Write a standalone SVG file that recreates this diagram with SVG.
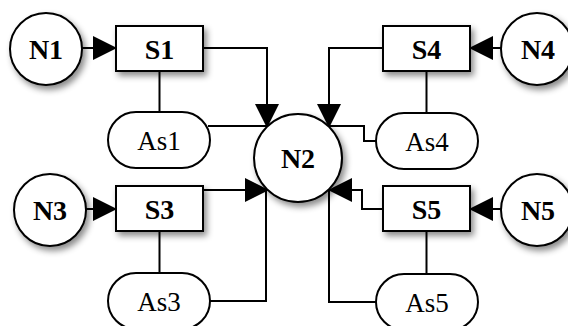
<svg xmlns="http://www.w3.org/2000/svg" width="568" height="326" viewBox="0 0 568 326">
  <defs>
    <filter id="shadow" x="-30%" y="-30%" width="170%" height="170%">
      <feDropShadow dx="3" dy="4" stdDeviation="3" flood-color="#000" flood-opacity="0.45"/>
    </filter>
    <marker id="arrow" markerUnits="userSpaceOnUse" markerWidth="24" markerHeight="24" refX="23" refY="12" orient="auto">
      <path d="M0,0 L24,12 L0,24 z" fill="#000"/>
    </marker>
    <style>
      .node { fill: #fff; stroke: #000; stroke-width: 2; filter: url(#shadow); }
      .pill { fill: #fff; stroke: #000; stroke-width: 2; }
      .edge { fill: none; stroke: #000; stroke-width: 2; }
      .lbl { font-family: "Liberation Serif", "Times New Roman", Times, "DejaVu Serif", serif; font-size: 27px; text-anchor: middle; fill: #000; }
      .bold { font-weight: bold; font-size: 28px; }
    </style>
  </defs>

  <g id="connectors">
    <!-- inputs into the S boxes -->
    <path class="edge" d="M82,48 L116,48" marker-end="url(#arrow)"/>
    <path class="edge" d="M86,209 L116,209" marker-end="url(#arrow)"/>
    <path class="edge" d="M501,48 L470,48" marker-end="url(#arrow)"/>
    <path class="edge" d="M501,209 L470,209" marker-end="url(#arrow)"/>
    <!-- S boxes into N2 -->
    <path class="edge" d="M203,48 L267,48 L267,127" marker-end="url(#arrow)"/>
    <path class="edge" d="M383,48 L329,48 L329,127" marker-end="url(#arrow)"/>
    <path class="edge" d="M203,190 L268,190" marker-end="url(#arrow)"/>
    <path class="edge" d="M383,209 L362,209 L362,190 L329,190" marker-end="url(#arrow)"/>
    <!-- As terminals to N2 -->
    <path class="edge" d="M208,126 L267,126"/>
    <path class="edge" d="M376,141 L364,141 L364,126 L329,126"/>
    <path class="edge" d="M210,301 L266,301 L266,190"/>
    <path class="edge" d="M376,302 L329,302 L329,190"/>
    <!-- S boxes to their As terminals -->
    <path class="edge" d="M159.5,71 L159.5,112"/>
    <path class="edge" d="M159.5,231 L159.5,273"/>
    <path class="edge" d="M426.5,71 L426.5,113"/>
    <path class="edge" d="M426.5,231 L426.5,274"/>
  </g>

  <g id="N1">
    <circle class="node" cx="46" cy="49" r="36"/>
    <text class="lbl bold" x="46" y="58.5">N1</text>
  </g>
  <g id="N3">
    <circle class="node" cx="50" cy="210" r="36"/>
    <text class="lbl bold" x="50" y="219.5">N3</text>
  </g>
  <g id="N4">
    <circle class="node" cx="537" cy="49" r="36"/>
    <text class="lbl bold" x="538" y="58.5">N4</text>
  </g>
  <g id="N5">
    <circle class="node" cx="537" cy="210" r="36"/>
    <text class="lbl bold" x="538" y="219.5">N5</text>
  </g>
  <g id="N2">
    <circle class="node" cx="298" cy="158" r="44"/>
    <text class="lbl bold" x="298" y="167.5">N2</text>
  </g>

  <g id="S1">
    <rect class="node" x="116" y="26" width="87" height="45"/>
    <text class="lbl bold" x="159.5" y="58.5">S1</text>
  </g>
  <g id="S3">
    <rect class="node" x="116" y="186" width="87" height="45"/>
    <text class="lbl bold" x="159.5" y="218.5">S3</text>
  </g>
  <g id="S4">
    <rect class="node" x="383" y="26" width="87" height="45"/>
    <text class="lbl bold" x="426.5" y="58.5">S4</text>
  </g>
  <g id="S5">
    <rect class="node" x="383" y="186" width="87" height="45"/>
    <text class="lbl bold" x="426.5" y="218.5">S5</text>
  </g>

  <g id="As1">
    <rect class="pill" x="108" y="112" width="102" height="56" rx="28"/>
    <text class="lbl" x="159" y="149.5">As1</text>
  </g>
  <g id="As3">
    <rect class="pill" x="108" y="273" width="102" height="56" rx="28"/>
    <text class="lbl" x="159" y="310.5">As3</text>
  </g>
  <g id="As4">
    <rect class="pill" x="376" y="113" width="102" height="56" rx="28"/>
    <text class="lbl" x="427" y="150.5">As4</text>
  </g>
  <g id="As5">
    <rect class="pill" x="376" y="274" width="102" height="56" rx="28"/>
    <text class="lbl" x="427" y="311.5">As5</text>
  </g>
</svg>
